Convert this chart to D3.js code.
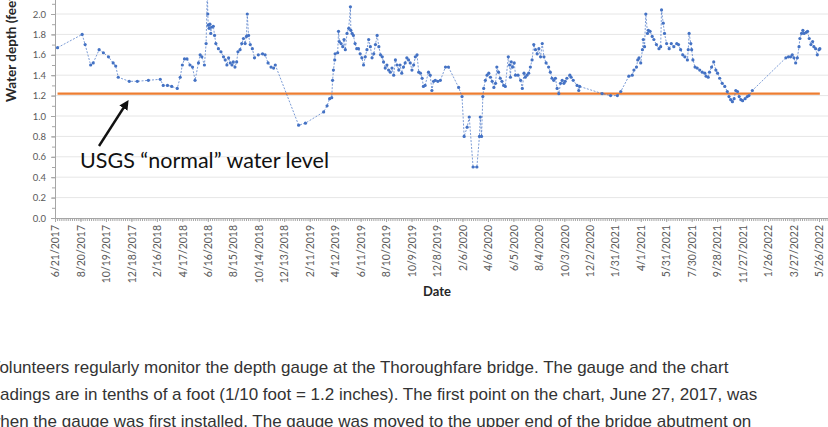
<!DOCTYPE html>
<html>
<head>
<meta charset="utf-8">
<script src="https://cdn.jsdelivr.net/npm/d3@7"></script>
<style>
  html, body { margin: 0; padding: 0; background: #fff; overflow: hidden; }
  svg { display: block; }
</style>
</head>
<body>
<div id="chart"></div>
<script>
// gauge readings (date, feet)
let dates = [
  "6/27/2017","8/24/2017","8/31/2017","9/13/2017","9/19/2017","10/3/2017","10/13/2017","10/25/2017","11/5/2017","11/11/2017",
  "11/17/2017","12/13/2017","1/1/2018","1/27/2018","2/24/2018","3/3/2018","3/13/2018","3/23/2018","4/5/2018","4/12/2018",
  "4/17/2018","4/22/2018","4/28/2018","5/5/2018","5/11/2018","5/17/2018","5/25/2018","5/29/2018","6/2/2018","6/8/2018",
  "6/12/2018","6/15/2018","6/16/2018","6/17/2018","6/19/2018","6/21/2018","6/23/2018","6/25/2018","6/29/2018","7/2/2018",
  "7/5/2018","7/11/2018","7/17/2018","7/23/2018","7/27/2018","7/31/2018","8/4/2018","8/8/2018","8/12/2018","8/15/2018",
  "8/19/2018","8/23/2018","8/26/2018","8/31/2018","9/4/2018","9/8/2018","9/12/2018","9/15/2018","9/17/2018","9/20/2018",
  "9/24/2018","9/29/2018","10/4/2018","10/13/2018","10/23/2018","10/29/2018","11/5/2018","11/12/2018","11/18/2018","11/22/2018",
  "1/16/2019","2/1/2019","3/16/2019","3/24/2019","3/30/2019","4/4/2019","4/6/2019","4/8/2019","4/11/2019","4/12/2019",
  "4/18/2019","4/20/2019","4/22/2019","4/26/2019","4/30/2019","5/3/2019","5/6/2019","5/10/2019","5/14/2019","5/18/2019",
  "5/19/2019","5/22/2019","5/25/2019","5/29/2019","6/2/2019","6/6/2019","6/10/2019","6/14/2019","6/18/2019","6/22/2019",
  "6/26/2019","6/30/2019","7/4/2019","7/8/2019","7/12/2019","7/16/2019","7/20/2019","7/24/2019","7/28/2019","8/1/2019",
  "8/4/2019","8/8/2019","8/12/2019","8/16/2019","8/20/2019","8/24/2019","8/28/2019","9/1/2019","9/5/2019","9/9/2019",
  "9/12/2019","9/16/2019","9/20/2019","9/24/2019","9/28/2019","10/2/2019","10/6/2019","10/10/2019","10/14/2019","10/18/2019",
  "10/22/2019","10/26/2019","10/30/2019","11/3/2019","11/6/2019","11/10/2019","11/18/2019","11/22/2019","11/26/2019","11/30/2019",
  "12/4/2019","12/10/2019","12/16/2019","12/28/2019","1/4/2020","1/28/2020","2/5/2020","2/10/2020","2/17/2020","2/22/2020",
  "3/2/2020","3/11/2020","3/17/2020","3/19/2020","3/22/2020","3/25/2020","3/27/2020","3/31/2020","4/4/2020","4/8/2020",
  "4/12/2020","4/16/2020","4/20/2020","4/24/2020","4/27/2020","5/1/2020","5/5/2020","5/9/2020","5/13/2020","5/17/2020",
  "5/24/2020","5/27/2020","5/29/2020","5/31/2020","6/3/2020","6/7/2020","6/10/2020","6/16/2020","6/22/2020","6/26/2020",
  "6/30/2020","7/3/2020","7/7/2020","7/11/2020","7/15/2020","7/19/2020","7/23/2020","7/27/2020","7/31/2020","8/4/2020",
  "8/8/2020","8/12/2020","8/16/2020","8/21/2020","8/27/2020","8/31/2020","9/4/2020","9/8/2020","9/12/2020","9/16/2020",
  "9/20/2020","9/24/2020","9/28/2020","10/2/2020","10/5/2020","10/9/2020","10/16/2020","10/19/2020","10/24/2020","11/2/2020",
  "11/6/2020","11/8/2020","12/31/2020","1/20/2021","2/5/2021","2/13/2021","3/4/2021","3/12/2021","3/16/2021","3/22/2021",
  "3/25/2021","3/28/2021","4/1/2021","4/5/2021","4/7/2021","4/10/2021","4/13/2021","4/17/2021","4/19/2021","4/23/2021",
  "4/28/2021","5/2/2021","5/8/2021","5/14/2021","5/18/2021","5/20/2021","5/24/2021","5/27/2021","6/1/2021","6/7/2021",
  "6/12/2021","6/18/2021","6/25/2021","6/29/2021","7/4/2021","7/9/2021","7/14/2021","7/20/2021","7/22/2021","7/24/2021",
  "7/28/2021","7/30/2021","8/2/2021","8/7/2021","8/12/2021","8/18/2021","8/24/2021","8/30/2021","9/2/2021","9/7/2021",
  "9/10/2021","9/15/2021","9/20/2021","9/25/2021","9/29/2021","10/4/2021","10/10/2021","10/16/2021","10/22/2021","10/26/2021",
  "10/30/2021","11/3/2021","11/7/2021","11/11/2021","11/15/2021","11/19/2021","11/23/2021","11/27/2021","12/3/2021","12/8/2021",
  "12/12/2021","12/20/2021","3/9/2022","3/15/2022","3/20/2022","3/24/2022","3/28/2022","4/1/2022","4/5/2022","4/9/2022",
  "4/11/2022","4/15/2022","4/18/2022","4/21/2022","4/26/2022","4/29/2022","5/3/2022","5/7/2022","5/11/2022","5/14/2022",
  "5/18/2022","5/22/2022","5/26/2022","5/28/2022"
];
let depths = [
  1.67,1.80,1.70,1.50,1.52,1.65,1.62,1.58,1.52,1.49,
  1.38,1.34,1.34,1.35,1.36,1.30,1.30,1.29,1.27,1.38,
  1.50,1.56,1.56,1.50,1.48,1.35,1.52,1.60,1.58,1.50,
  1.71,2.25,2.00,1.89,1.86,1.90,1.81,1.87,1.88,1.79,
  1.71,1.66,1.63,1.58,1.55,1.50,1.57,1.52,1.50,1.53,
  1.48,1.53,1.63,1.65,1.71,1.76,1.71,1.78,2.00,1.79,
  1.70,1.66,1.57,1.60,1.61,1.60,1.52,1.48,1.47,1.50,
  0.91,0.93,1.04,1.10,1.17,1.18,1.35,1.45,1.55,1.61,
  1.62,1.83,1.73,1.71,1.68,1.75,1.65,1.81,1.86,2.07,
  1.84,1.81,1.79,1.71,1.66,1.66,1.61,1.57,1.50,1.58,
  1.65,1.75,1.68,1.57,1.61,1.70,1.79,1.68,1.60,1.58,
  1.53,1.47,1.50,1.45,1.43,1.47,1.40,1.55,1.50,1.45,
  1.50,1.42,1.48,1.52,1.57,1.55,1.52,1.45,1.50,1.58,
  1.60,1.43,1.42,1.37,1.29,1.30,1.43,1.40,1.25,1.34,
  1.35,1.34,1.35,1.48,1.48,1.28,1.19,0.80,0.89,0.99,
  0.50,0.50,0.80,0.99,0.80,1.19,1.27,1.35,1.40,1.42,
  1.38,1.34,1.28,1.32,1.48,1.43,1.37,1.34,1.30,1.29,
  1.58,1.50,1.38,1.53,1.48,1.52,1.40,1.40,1.35,1.27,
  1.42,1.38,1.40,1.42,1.48,1.55,1.70,1.65,1.61,1.66,
  1.58,1.71,1.58,1.52,1.48,1.43,1.37,1.35,1.37,1.27,
  1.22,1.32,1.35,1.32,1.34,1.37,1.40,1.38,1.35,1.30,
  1.25,1.29,1.22,1.20,1.20,1.24,1.39,1.40,1.45,1.48,
  1.55,1.57,1.52,1.65,1.75,1.68,2.00,1.81,1.84,1.83,
  1.78,1.75,1.70,1.66,1.68,2.04,1.91,1.81,1.71,1.66,
  1.71,1.68,1.71,1.70,1.65,1.60,1.58,1.55,1.65,1.81,
  1.71,1.65,1.55,1.48,1.47,1.45,1.43,1.42,1.39,1.38,
  1.43,1.48,1.53,1.45,1.42,1.37,1.32,1.29,1.24,1.19,
  1.16,1.14,1.17,1.25,1.24,1.19,1.16,1.15,1.17,1.19,
  1.20,1.25,1.57,1.58,1.58,1.60,1.57,1.52,1.57,1.68,
  1.76,1.81,1.84,1.81,1.82,1.83,1.76,1.70,1.73,1.68,
  1.66,1.60,1.65,1.66
];
let normalLevel = 1.22;

let xTickLabels = [
  "6/21/2017","8/20/2017","10/19/2017","12/18/2017","2/16/2018","4/17/2018","6/16/2018","8/15/2018",
  "10/14/2018","12/13/2018","2/11/2019","4/12/2019","6/11/2019","8/10/2019","10/9/2019","12/8/2019",
  "2/6/2020","4/6/2020","6/5/2020","8/4/2020","10/3/2020","12/2/2020","1/31/2021","4/1/2021",
  "5/31/2021","7/30/2021","9/28/2021","11/27/2021","1/26/2022","3/27/2022","5/26/2022"
];
let yTicks = [0, 0.2, 0.4, 0.6, 0.8, 1.0, 1.2, 1.4, 1.6, 1.8, 2.0, 2.2];

let textLines = [
  "Volunteers regularly monitor the depth gauge at the Thoroughfare bridge. The gauge and the chart",
  "readings are in tenths of a foot (1/10 foot = 1.2 inches). The first point on the chart, June 27, 2017, was",
  "when the gauge was first installed. The gauge was moved to the upper end of the bridge abutment on"
];

let parseDate = d3.timeParse("%m/%d/%Y");
let data = dates.map((d, i) => ({date: parseDate(d), value: depths[i]}));
let tickDates = xTickLabels.map(parseDate);

let W = 828, H = 427;
let svg = d3.select("#chart").append("svg")
  .attr("width", W).attr("height", H);

// axis end is past the right edge (the chart is cropped)
let x = d3.scaleTime()
  .domain([tickDates[0], d3.timeDay.offset(tickDates[tickDates.length - 1], 25)])
  .range([55, 829.6]);

let y = d3.scaleLinear()
  .domain([0, 2.2])
  .range([218, 218 - 2.2 * 102]);

let chartFont = "Lato, 'Open Sans', sans-serif";

// gridlines
svg.append("g")
  .selectAll("line")
  .data(yTicks.slice(1))
  .enter()
  .append("line")
    .attr("x1", x.range()[0])
    .attr("x2", x.range()[1])
    .attr("y1", d => y(d))
    .attr("y2", d => y(d))
    .style("stroke", "#e6e6e6")
    .style("stroke-width", 1);

// y axis with minor ticks
let yMinor = d3.range(0, 2.21, 0.1);
svg.append("g")
  .attr("transform", "translate(" + x.range()[0] + ",0)")
  .call(d3.axisLeft(y).tickValues(yMinor).tickSize(3).tickFormat(""))
  .call(g => g.selectAll("path,line").style("stroke", "#a6a6a6"));
svg.append("g")
  .attr("transform", "translate(" + x.range()[0] + ",0)")
  .call(d3.axisLeft(y).tickValues(yTicks).tickSize(4).tickFormat(d3.format(".1f")))
  .call(g => g.select(".domain").remove())
  .call(g => g.selectAll("line").style("stroke", "#a6a6a6"))
  .call(g => g.selectAll("text")
    .attr("x", -9)
    .style("font-family", chartFont)
    .style("font-size", "9.5px")
    .style("fill", "#595959"));

// x axis: minor ticks every 5 days, labels every 60
let xMinor = d3.timeDay.range(x.domain()[0], x.domain()[1], 1).filter((d, i) => i % 5 == 0);
svg.append("g")
  .attr("transform", "translate(0," + y(0) + ")")
  .call(d3.axisBottom(x).tickValues(xMinor).tickSize(3).tickFormat(""))
  .call(g => g.selectAll("path,line").style("stroke", "#a6a6a6"));
svg.append("g")
  .attr("transform", "translate(0," + y(0) + ")")
  .call(d3.axisBottom(x).tickValues(tickDates).tickSize(4).tickFormat((d, i) => xTickLabels[i]))
  .call(g => g.select(".domain").remove())
  .call(g => g.selectAll("line").style("stroke", "#a6a6a6"))
  .call(g => g.selectAll("text")
    .attr("transform", "rotate(-90)")
    .attr("x", -7)
    .attr("y", 0)
    .attr("dy", "0.35em")
    .style("text-anchor", "end")
    .style("font-family", chartFont)
    .style("font-size", "10.5px")
    .style("fill", "#595959"));

// axis titles
svg.append("text")
  .attr("transform", "translate(16,102) rotate(-90)")
  .style("text-anchor", "start")
  .style("font-family", chartFont)
  .style("font-weight", "bold")
  .style("font-size", "13.5px")
  .style("fill", "#262626")
  .text("Water depth (feet)");

svg.append("text")
  .attr("x", 437)
  .attr("y", 296)
  .style("text-anchor", "middle")
  .style("font-family", chartFont)
  .style("font-weight", "bold")
  .style("font-size", "13px")
  .style("fill", "#262626")
  .text("Date");

// "normal" level line
let first = data[0].date, last = data[data.length - 1].date;
svg.append("line")
  .attr("x1", x(first)).attr("x2", x(last))
  .attr("y1", y(normalLevel)).attr("y2", y(normalLevel))
  .style("stroke", "#ED7D31")
  .style("stroke-width", 2.2);

// depth series
let line = d3.line()
  .x(d => x(d.date))
  .y(d => y(d.value));

svg.append("path")
  .datum(data)
  .attr("d", line)
  .style("fill", "none")
  .style("stroke", "#4472C4")
  .style("stroke-width", 1)
  .style("stroke-dasharray", "2,1.5")
  .style("opacity", 0.7);

svg.append("g")
  .selectAll("circle")
  .data(data)
  .enter()
  .append("circle")
    .attr("cx", d => x(d.date))
    .attr("cy", d => y(d.value))
    .attr("r", 1.6)
    .style("fill", "#4472C4");

// annotation
svg.append("defs").append("marker")
  .attr("id", "arrow")
  .attr("viewBox", "0 0 10 10")
  .attr("refX", 5).attr("refY", 5)
  .attr("markerWidth", 4).attr("markerHeight", 4)
  .attr("orient", "auto")
  .append("path")
    .attr("d", "M0,0 L10,5 L0,10 z")
    .style("fill", "#111");

svg.append("line")
  .attr("x1", 99).attr("y1", 146)
  .attr("x2", 126).attr("y2", 104)
  .style("stroke", "#111")
  .style("stroke-width", 2.4)
  .attr("marker-end", "url(#arrow)");

svg.append("text")
  .attr("x", 80)
  .attr("y", 168)
  .style("font-family", chartFont)
  .style("font-size", "21.5px")
  .style("fill", "#111")
  .text("USGS \u201Cnormal\u201D water level");

// page text under the chart
svg.append("g")
  .selectAll("text")
  .data(textLines)
  .enter()
  .append("text")
    .attr("x", (d, i) => [-11, -15, -12][i])
    .attr("y", (d, i) => 373 + i * 27)
    .style("font-family", "'Liberation Sans', Arial, sans-serif")
    .style("font-size", "17px")
    .style("fill", "#333")
    .text(d => d);
</script>
</body>
</html>
